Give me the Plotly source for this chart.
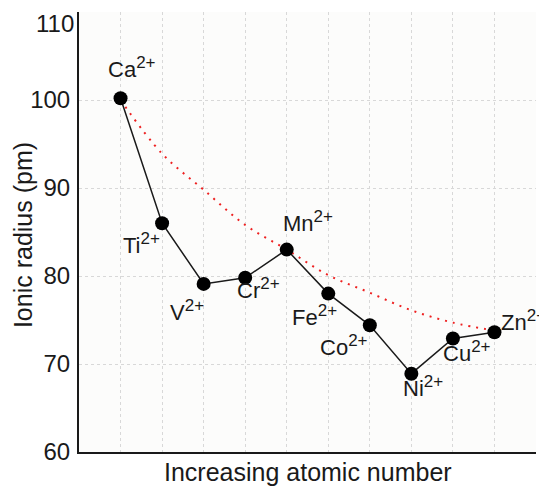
import plotly.graph_objects as go

ions = ["Ca", "Ti", "V", "Cr", "Mn", "Fe", "Co", "Ni", "Cu", "Zn"]
position = [1, 2, 3, 4, 5, 6, 7, 8, 9, 10]
radius = [100.2, 86.0, 79.1, 79.8, 83.0, 78.0, 74.4, 68.9, 72.9, 73.6]
trend = [100.0, 93.9, 89.8, 85.8, 83.0, 80.1, 78.1, 76.1, 74.7, 73.8]
y_ticks = [60, 70, 80, 90, 100]
top_tick = 110
label_x = [1.27, 1.51, 2.61, 4.32, 5.51, 5.68, 6.39, 8.29, 9.35, 10.70]
label_y = [103.7, 83.7, 76.1, 78.6, 86.2, 75.5, 72.1, 67.4, 71.4, 74.9]

FONT = "Liberation Sans, Arial"
INK = "#1a1a1a"

fig = go.Figure()
fig.add_trace(go.Scatter(
    x=position, y=trend, mode="lines",
    line=dict(color="#ee2020", width=2, dash="2px,6px", shape="spline"),
    hoverinfo="skip", showlegend=False))
fig.add_trace(go.Scatter(
    x=position, y=radius, mode="lines+markers",
    line=dict(color=INK, width=1.5),
    marker=dict(color="#000000", size=14),
    showlegend=False, cliponaxis=False))

for name, lx, ly in zip(ions, label_x, label_y):
    fig.add_annotation(x=lx, y=ly, xref="x", yref="y",
                       text=f"{name}<sup><span style='font-size:17px'>2+</span></sup>",
                       showarrow=False, xanchor="center", yanchor="middle",
                       font=dict(family=FONT, size=22, color=INK))

fig.add_annotation(x=-0.006, y=top_tick, xref="paper", yref="y", text=str(top_tick),
                   showarrow=False, xanchor="right", yanchor="top", yshift=4,
                   font=dict(family=FONT, size=24, color=INK))

fig.add_annotation(x=0.5, y=-0.01, xref="paper", yref="paper", text="Increasing atomic number",
                   showarrow=False, xanchor="center", yanchor="top",
                   font=dict(family=FONT, size=25, color=INK))
fig.add_annotation(x=-0.1225, y=0.493, xref="paper", yref="paper", text="Ionic radius (pm)",
                   showarrow=False, xanchor="center", yanchor="middle", textangle=-90,
                   font=dict(family=FONT, size=25, color=INK))

# page body has an 8px margin; compensate so the plot lands where the reference has it
fig.update_layout(
    width=539, height=482,
    margin=dict(l=71, r=11, t=4, b=38),
    paper_bgcolor="#ffffff", plot_bgcolor="#fcfcfb",
    font=dict(family=FONT, color=INK),
)
fig.update_xaxes(range=[0, 11], dtick=1, tick0=0, showticklabels=False, ticks="",
                 showgrid=True, gridcolor="#d8d8d8", griddash="dot", gridwidth=1,
                 showline=True, linecolor=INK, linewidth=2, zeroline=False)
fig.update_yaxes(range=[60, 110], tickvals=y_ticks + [top_tick], ticktext=[str(v) for v in y_ticks] + [""],
                 ticks="",
                 tickfont=dict(family=FONT, size=24, color=INK),
                 showgrid=True, gridcolor="#d8d8d8", griddash="dot", gridwidth=1,
                 showline=True, linecolor=INK, linewidth=2, zeroline=False,
                 ticklabelstandoff=2)

fig.write_html("out.html")
